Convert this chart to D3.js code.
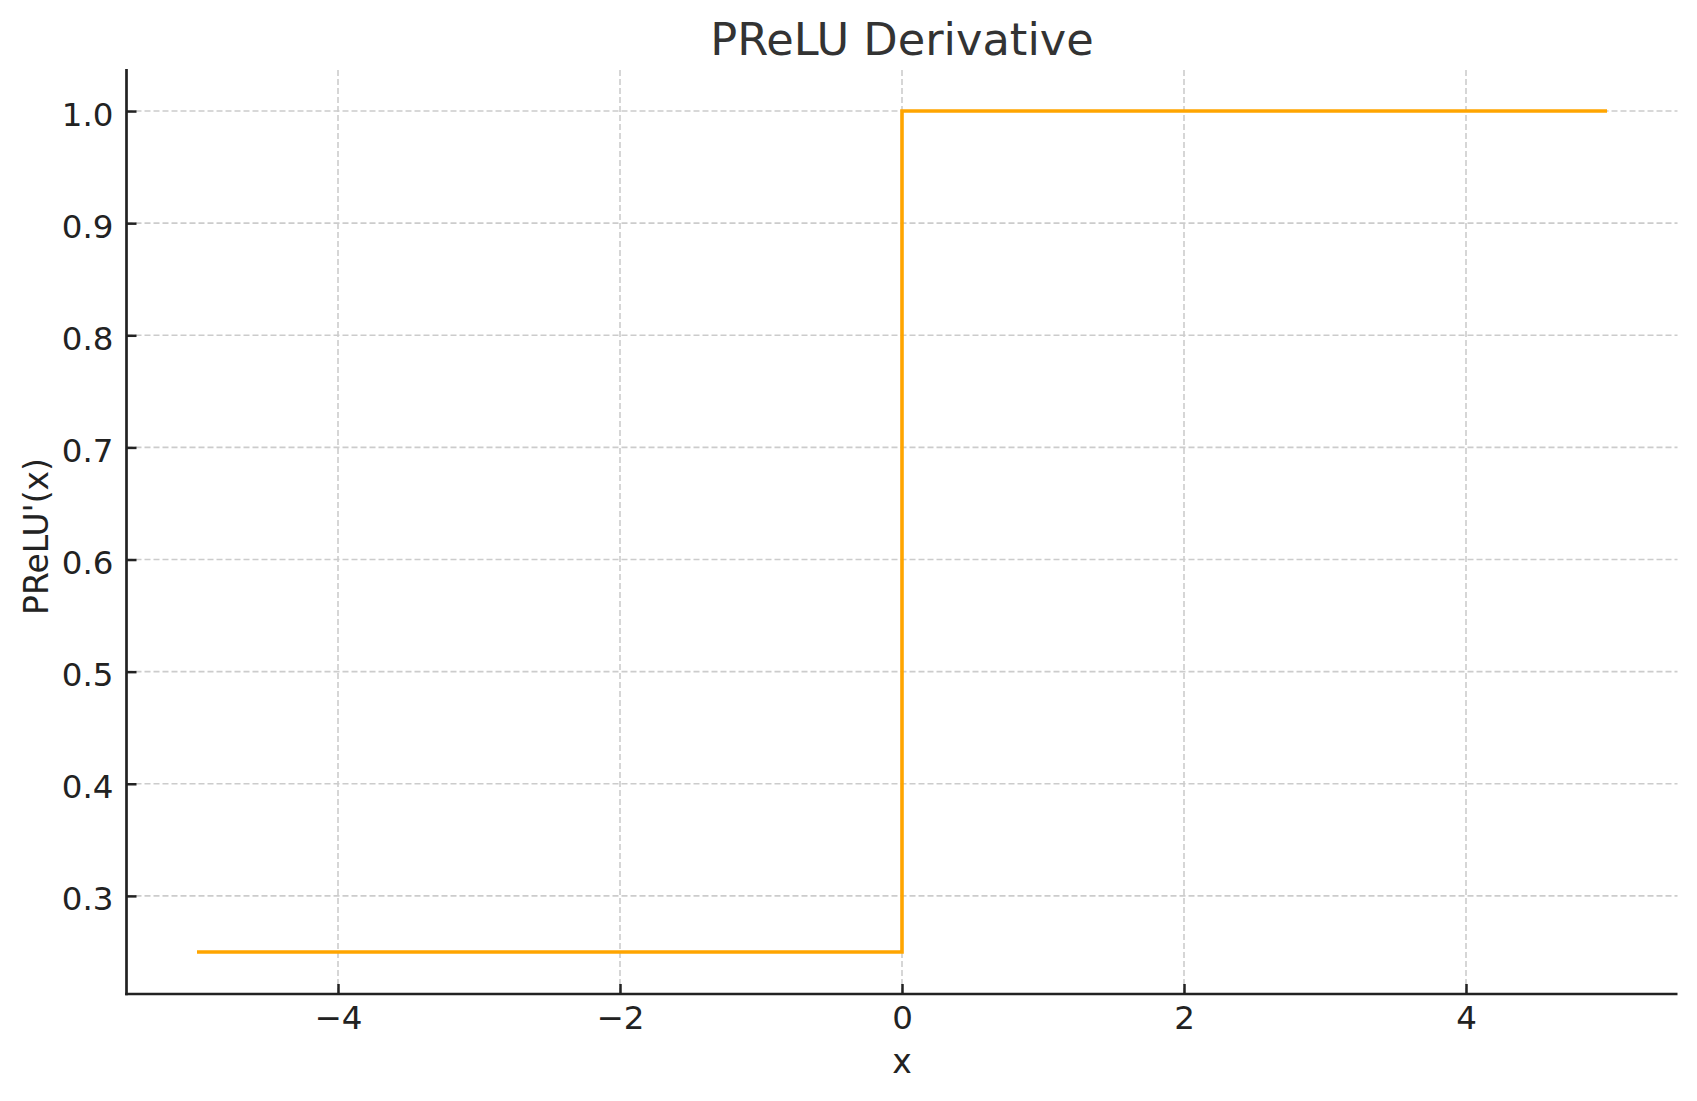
<!DOCTYPE html>
<html>
<head>
<meta charset="utf-8">
<script src="https://cdn.jsdelivr.net/npm/d3@7"></script>
<style>
  html, body { margin: 0; padding: 0; background: #ffffff; }
  svg { display: block; font-family: "DejaVu Sans", sans-serif; }
</style>
</head>
<body>
<svg id="chart" width="1697" height="1101"></svg>
<script>
// Data (PReLU derivative, alpha = 0.25)
const xValues = [-5, 0, 0, 5];
const yValues = [0.25, 0.25, 1.0, 1.0];
const xTicks = [-4, -2, 0, 2, 4];
const yTicks = [0.3, 0.4, 0.5, 0.6, 0.7, 0.8, 0.9, 1.0];
const titleText = "PReLU Derivative";
const xLabelText = "x";
const yLabelText = "PReLU'(x)";

const W = 1697, H = 1101;
const margin = { left: 126.5, right: W - 1677.5, top: 69, bottom: H - 994 };
const svg = d3.select("#chart");

const x = d3.scaleLinear().domain([-5.5, 5.5]).range([margin.left, W - margin.right]);
const y = d3.scaleLinear().domain([0.2125, 1.0375]).range([H - margin.bottom, margin.top]);

// Grid
const grid = svg.append("g");
grid.selectAll("line.gx").data(xTicks).join("line")
  .attr("x1", d => x(d)).attr("x2", d => x(d))
  .attr("y1", y.range()[0]).attr("y2", y.range()[1])
  .attr("stroke", "#cccccc").attr("stroke-width", 1.6).attr("stroke-dasharray", "6,3");
grid.selectAll("line.gy").data(yTicks).join("line")
  .attr("y1", d => y(d)).attr("y2", d => y(d))
  .attr("x1", x.range()[0]).attr("x2", x.range()[1])
  .attr("stroke", "#cccccc").attr("stroke-width", 1.6).attr("stroke-dasharray", "6,3");

// Line
const pts = xValues.map((v, i) => [v, yValues[i]]);
svg.append("path")
  .datum(pts)
  .attr("fill", "none")
  .attr("stroke", "#FFA500")
  .attr("stroke-width", 3.6)
  .attr("stroke-linejoin", "miter")
  .attr("d", d3.line().x(d => x(d[0])).y(d => y(d[1])));

// Axes (ticks inward)
const fmtX = d => (d < 0 ? "\u2212" + Math.abs(d) : String(d));
const xAxis = d3.axisBottom(x).tickValues(xTicks).tickFormat(fmtX).tickSizeInner(-10).tickSizeOuter(0).tickPadding(24);
const yAxis = d3.axisLeft(y).tickValues(yTicks).tickFormat(d3.format(".1f")).tickSizeInner(-10).tickSizeOuter(0).tickPadding(24);

const gx = svg.append("g").attr("transform", `translate(0,${y.range()[0]})`).call(xAxis);
const gy = svg.append("g").attr("transform", `translate(${x.range()[0]},0)`).call(yAxis);

[gx, gy].forEach(g => {
  g.select(".domain").attr("stroke", "#222222").attr("stroke-width", 2.7);
  g.selectAll(".tick line").attr("stroke", "#222222").attr("stroke-width", 2.5);
  g.selectAll(".tick text")
    .attr("fill", "#222222")
    .style("font-family", "'DejaVu Sans', sans-serif")
    .style("font-size", "32.5px");
});
// tick label placement
gx.selectAll(".tick text").attr("dy", null).attr("y", 35).attr("dominant-baseline", "alphabetic");
gy.selectAll(".tick text").attr("dy", null).attr("x", -13).attr("y", 14).attr("dominant-baseline", "alphabetic");
// extend domains to full range cleanly
gx.select(".domain").attr("d", `M${x.range()[0] - 1.35},0H${x.range()[1]}`);
gy.select(".domain").attr("d", `M0,${y.range()[1]}V${y.range()[0] + 1.35}`);

// Title
svg.append("text")
  .attr("x", (x.range()[0] + x.range()[1]) / 2)
  .attr("y", 55)
  .attr("text-anchor", "middle")
  .attr("fill", "#333333")
  .style("font-size", "44.7px")
  .text(titleText);

// X label
svg.append("text")
  .attr("x", (x.range()[0] + x.range()[1]) / 2)
  .attr("y", 1073)
  .attr("text-anchor", "middle")
  .attr("fill", "#222222")
  .style("font-size", "33px")
  .text(xLabelText);

// Y label
svg.append("text")
  .attr("transform", `translate(48,${(y.range()[0] + y.range()[1]) / 2 + 5}) rotate(-90)`)
  .attr("text-anchor", "middle")
  .attr("fill", "#222222")
  .style("font-size", "33px")
  .text(yLabelText);
</script>
</body>
</html>
